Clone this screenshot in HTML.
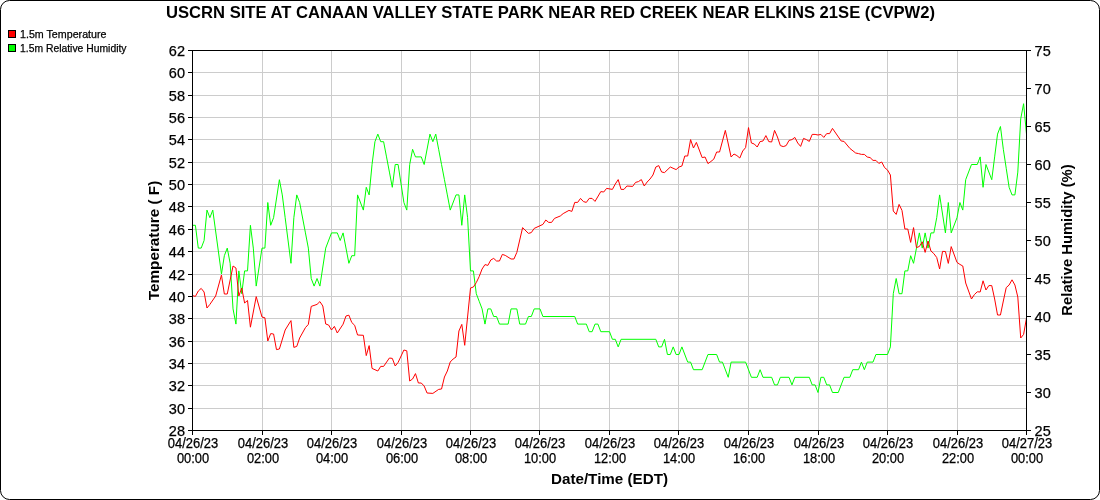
<!DOCTYPE html><html><head><meta charset="utf-8"><style>html,body{margin:0;padding:0;background:#fff;}svg{display:block}text{font-family:"Liberation Sans",Arial,sans-serif;fill:#000;stroke:#000;stroke-width:0.25px}text[font-weight=bold]{stroke:none}</style></head><body>
<svg width="1100" height="500" viewBox="0 0 1100 500">
<rect x="0" y="0" width="1100" height="500" fill="#fff"/>
<rect x="0.5" y="0.5" width="1099" height="499" rx="9" ry="9" fill="#fff" stroke="#000" stroke-width="1"/>
<text x="550.5" y="18" text-anchor="middle" font-weight="bold" font-size="16.5" textLength="769" lengthAdjust="spacingAndGlyphs">USCRN SITE AT CANAAN VALLEY STATE PARK NEAR RED CREEK NEAR ELKINS 21SE (CVPW2)</text>
<rect x="8.5" y="30.5" width="7" height="7" fill="#f00" stroke="#000"/>
<rect x="8.5" y="44.5" width="7" height="7" fill="#0f0" stroke="#000"/>
<text x="20" y="38" font-size="11" textLength="86.5" lengthAdjust="spacingAndGlyphs">1.5m Temperature</text>
<text x="20" y="52" font-size="11" textLength="106.5" lengthAdjust="spacingAndGlyphs">1.5m Relative Humidity</text>
<path d="M262.5 50V430M331.5 50V430M401.5 50V430M470.5 50V430M539.5 50V430M609.5 50V430M678.5 50V430M748.5 50V430M818.5 50V430M887.5 50V430M957.5 50V430M192 72.5H1026M192 95.5H1026M192 117.5H1026M192 139.5H1026M192 162.5H1026M192 184.5H1026M192 206.5H1026M192 229.5H1026M192 251.5H1026M192 274.5H1026M192 296.5H1026M192 318.5H1026M192 341.5H1026M192 363.5H1026M192 385.5H1026M192 408.5H1026" stroke="#cccccc" stroke-width="1" fill="none"/>
<polyline points="192.50,225.30 195.40,225.30 198.29,248.10 201.19,248.10 204.08,240.50 206.98,210.10 209.88,217.70 212.77,210.10 221.46,274.00 224.35,255.70 227.25,248.10 230.15,263.30 233.04,308.90 235.94,324.10 238.83,270.90 241.73,293.70 244.62,270.90 247.52,270.90 250.42,225.30 253.31,248.10 256.21,286.10 262.00,248.10 264.90,248.10 267.79,202.50 270.69,225.30 273.58,217.70 279.38,179.70 282.27,194.90 285.17,217.70 290.96,263.30 293.85,217.70 296.75,194.90 299.65,202.50 305.44,232.90 308.33,248.10 311.23,278.50 314.12,286.10 317.02,278.50 319.92,286.10 325.71,248.10 331.50,232.90 337.29,232.90 340.19,240.50 343.08,232.90 348.88,263.30 351.77,255.70 354.67,255.70 357.56,194.90 363.35,210.10 366.25,187.30 369.15,194.90 372.04,164.50 374.94,141.70 377.83,134.10 380.73,141.70 383.62,141.70 386.52,156.90 389.42,172.10 392.31,187.30 395.21,164.50 398.10,164.50 403.90,202.50 406.79,210.10 409.69,164.50 412.58,149.30 415.48,156.90 421.27,156.90 424.17,164.50 429.96,134.10 432.85,141.70 435.75,134.10 438.65,149.30 441.54,164.50 444.44,179.70 447.33,194.90 450.23,210.10 456.02,194.90 458.92,194.90 461.81,225.30 464.71,194.90 467.60,217.70 470.50,270.90 473.40,270.90 476.29,293.70 479.19,301.30 482.08,308.90 484.98,324.10 487.88,308.90 490.77,308.90 493.67,316.50 496.56,316.50 499.46,324.10 508.15,324.10 511.04,308.90 516.83,308.90 519.73,324.10 525.52,324.10 528.42,316.50 531.31,316.50 534.21,308.90 540.00,308.90 542.90,316.50 574.75,316.50 577.65,324.10 586.33,324.10 589.23,331.70 592.12,331.70 595.02,324.10 597.92,324.10 600.81,331.70 609.50,331.70 612.40,339.30 615.29,339.30 618.19,346.90 621.08,339.30 655.83,339.30 658.73,346.90 661.62,346.90 664.52,339.30 667.42,354.50 670.31,354.50 673.21,346.90 676.10,354.50 679.00,354.50 681.90,346.90 687.69,362.10 690.58,362.10 693.48,369.70 702.17,369.70 707.96,354.50 716.65,354.50 719.54,362.10 722.44,362.10 728.23,377.30 731.12,362.10 745.60,362.10 751.40,377.30 757.19,377.30 760.08,369.70 762.98,377.30 771.67,377.30 774.56,384.90 777.46,384.90 780.35,377.30 789.04,377.30 791.94,384.90 794.83,377.30 809.31,377.30 812.21,384.90 815.10,384.90 818.00,392.50 820.90,377.30 823.79,377.30 826.69,384.90 829.58,384.90 832.48,392.50 838.27,392.50 844.06,377.30 849.85,377.30 852.75,369.70 858.54,369.70 861.44,362.10 864.33,369.70 867.23,362.10 873.02,362.10 875.92,354.50 887.50,354.50 890.40,346.90 893.29,293.70 896.19,278.50 899.08,293.70 901.98,293.70 904.88,270.90 907.77,270.90 910.67,255.70 913.56,263.30 916.46,248.10 919.35,232.90 922.25,248.10 925.15,232.90 928.04,248.10 930.94,232.90 933.83,232.90 936.73,217.70 939.62,194.90 945.42,232.90 948.31,202.50 951.21,232.90 957.00,217.70 959.90,202.50 962.79,210.10 965.69,179.70 971.48,164.50 977.27,164.50 980.17,156.90 983.06,187.30 985.96,164.50 991.75,179.70 994.65,156.90 997.54,134.10 1000.44,126.50 1003.33,149.30 1006.23,168.30 1009.12,187.30 1012.02,194.90 1014.92,194.90 1017.81,172.10 1020.71,118.90 1023.60,103.70 1026.50,134.10" fill="none" stroke="#00ff00" stroke-width="1.0" stroke-linejoin="round"/><polyline points="192.50,295.60 195.40,296.40 198.29,291.00 201.19,288.40 204.08,292.00 206.98,308.00 209.88,304.40 215.67,296.00 221.46,275.00 224.35,294.00 227.25,294.00 233.04,266.00 235.94,268.00 238.83,296.00 241.73,288.00 244.62,303.00 247.52,300.50 250.42,327.20 256.21,296.60 262.00,317.00 264.90,317.80 267.79,341.00 270.69,333.60 273.58,334.00 276.48,349.60 279.38,349.00 285.17,330.00 290.96,320.60 293.85,347.40 296.75,346.40 299.65,338.00 305.44,327.60 308.33,324.40 311.23,306.40 317.02,304.40 319.92,301.60 322.81,306.00 325.71,324.00 328.60,325.00 331.50,330.00 334.40,326.40 337.29,333.00 343.08,324.20 345.98,316.00 348.88,315.20 351.77,322.50 354.67,325.30 357.56,335.00 363.35,335.30 366.25,355.60 369.15,345.60 372.04,368.40 377.83,371.00 380.73,366.40 383.62,366.40 389.42,358.00 392.31,358.40 395.21,366.00 398.10,362.40 403.90,350.00 406.79,350.80 409.69,381.00 412.58,379.00 415.48,373.60 418.38,383.00 421.27,383.00 424.17,386.00 427.06,393.00 432.85,393.40 438.65,389.40 441.54,389.00 444.44,377.00 447.33,371.00 450.23,362.00 453.12,359.00 456.02,357.00 458.92,331.00 461.81,324.40 464.71,345.30 470.50,288.00 473.40,287.00 476.29,282.60 479.19,276.50 482.08,269.00 484.98,264.60 487.88,265.40 490.77,260.00 493.67,258.40 496.56,261.00 499.46,261.00 502.35,254.40 505.25,255.40 511.04,259.00 513.94,259.00 516.83,252.40 522.62,227.60 528.42,233.40 531.31,232.60 534.21,228.40 542.90,224.40 545.79,220.00 548.69,222.40 551.58,222.40 554.48,218.40 560.27,216.00 563.17,213.60 568.96,210.40 571.85,211.40 574.75,202.40 577.65,202.40 580.54,198.40 583.44,201.60 586.33,202.40 589.23,198.40 592.12,198.40 595.02,201.40 600.81,191.60 603.71,192.00 606.60,188.40 612.40,189.40 615.29,184.00 618.19,179.60 621.08,189.40 623.98,189.40 626.88,186.00 632.67,186.40 635.56,182.40 638.46,181.60 641.35,179.60 644.25,186.00 647.15,182.00 650.04,179.00 652.94,175.00 655.83,167.00 658.73,165.60 661.62,172.00 664.52,172.60 670.31,167.00 676.10,169.60 679.00,167.00 681.90,166.00 684.79,156.00 687.69,156.00 690.58,139.60 693.48,148.00 696.38,142.40 702.17,157.60 705.06,157.00 707.96,163.60 710.85,161.50 713.75,159.20 716.65,152.00 719.54,152.00 725.33,130.40 731.12,157.00 734.02,154.00 736.92,155.60 739.81,158.00 742.71,151.00 745.60,147.60 748.50,127.60 751.40,143.00 754.29,144.00 757.19,147.00 760.08,141.60 762.98,141.00 765.88,135.60 768.77,141.60 771.67,142.00 774.56,130.40 777.46,137.00 780.35,145.60 783.25,146.60 786.15,145.60 789.04,140.40 791.94,139.60 794.83,137.40 797.73,143.00 800.62,146.40 803.52,138.40 806.42,139.60 809.31,141.40 812.21,134.40 815.10,134.40 818.00,135.00 820.90,134.40 823.79,137.40 826.69,133.60 829.58,133.60 832.48,128.40 841.17,141.00 844.06,141.40 849.85,148.40 855.65,153.00 858.54,153.60 861.44,154.40 864.33,154.40 867.23,157.00 870.12,157.60 873.02,160.40 875.92,160.40 878.81,163.40 881.71,162.00 884.60,167.60 887.50,170.00 890.40,175.00 893.29,211.00 896.19,214.40 899.08,204.40 901.98,210.40 904.88,229.00 907.77,229.00 910.67,242.40 913.56,227.60 916.46,247.60 919.35,246.50 922.25,241.80 925.15,252.40 928.04,241.00 930.94,251.00 933.83,253.60 936.73,257.50 939.62,269.00 942.52,251.40 945.42,251.50 948.31,263.40 951.21,246.60 957.00,262.40 959.90,264.40 962.79,266.00 965.69,283.00 971.48,299.00 974.38,294.60 977.27,291.80 980.17,292.00 983.06,280.80 985.96,290.00 988.85,285.60 991.75,285.60 994.65,299.00 997.54,315.00 1000.44,315.00 1003.33,301.00 1006.23,287.60 1009.12,285.00 1012.02,279.80 1014.92,285.00 1017.81,297.00 1020.71,338.00 1023.60,334.40 1026.50,318.00" fill="none" stroke="#ff0000" stroke-width="1.0" stroke-linejoin="round"/>
<path d="M192.5 50V430.5M1026.5 50V430.5M188 50.5H1031M188 430.5H1026.5M188 50.5H192M188 72.5H192M188 95.5H192M188 117.5H192M188 139.5H192M188 162.5H192M188 184.5H192M188 206.5H192M188 229.5H192M188 251.5H192M188 274.5H192M188 296.5H192M188 318.5H192M188 341.5H192M188 363.5H192M188 385.5H192M188 408.5H192M188 430.5H192M1027 50.5H1031M1027 88.5H1031M1027 126.5H1031M1027 164.5H1031M1027 202.5H1031M1027 240.5H1031M1027 278.5H1031M1027 316.5H1031M1027 354.5H1031M1027 392.5H1031M1027 430.5H1031M192.5 431V435M262.5 431V435M331.5 431V435M401.5 431V435M470.5 431V435M539.5 431V435M609.5 431V435M678.5 431V435M748.5 431V435M818.5 431V435M887.5 431V435M957.5 431V435M1026.5 431V435" stroke="#000" stroke-width="1" fill="none" shape-rendering="crispEdges"/>
<text x="185" y="55.7" text-anchor="end" font-size="14.5">62</text>
<text x="185" y="77.7" text-anchor="end" font-size="14.5">60</text>
<text x="185" y="100.7" text-anchor="end" font-size="14.5">58</text>
<text x="185" y="122.7" text-anchor="end" font-size="14.5">56</text>
<text x="185" y="144.7" text-anchor="end" font-size="14.5">54</text>
<text x="185" y="167.7" text-anchor="end" font-size="14.5">52</text>
<text x="185" y="189.7" text-anchor="end" font-size="14.5">50</text>
<text x="185" y="211.7" text-anchor="end" font-size="14.5">48</text>
<text x="185" y="234.7" text-anchor="end" font-size="14.5">46</text>
<text x="185" y="256.7" text-anchor="end" font-size="14.5">44</text>
<text x="185" y="279.7" text-anchor="end" font-size="14.5">42</text>
<text x="185" y="301.7" text-anchor="end" font-size="14.5">40</text>
<text x="185" y="323.7" text-anchor="end" font-size="14.5">38</text>
<text x="185" y="346.7" text-anchor="end" font-size="14.5">36</text>
<text x="185" y="368.7" text-anchor="end" font-size="14.5">34</text>
<text x="185" y="390.7" text-anchor="end" font-size="14.5">32</text>
<text x="185" y="413.7" text-anchor="end" font-size="14.5">30</text>
<text x="185" y="435.7" text-anchor="end" font-size="14.5">28</text>
<text x="1034.6" y="55.7" font-size="14.5">75</text>
<text x="1034.6" y="93.7" font-size="14.5">70</text>
<text x="1034.6" y="131.7" font-size="14.5">65</text>
<text x="1034.6" y="169.7" font-size="14.5">60</text>
<text x="1034.6" y="207.7" font-size="14.5">55</text>
<text x="1034.6" y="245.7" font-size="14.5">50</text>
<text x="1034.6" y="283.7" font-size="14.5">45</text>
<text x="1034.6" y="321.7" font-size="14.5">40</text>
<text x="1034.6" y="359.7" font-size="14.5">35</text>
<text x="1034.6" y="397.7" font-size="14.5">30</text>
<text x="1034.6" y="435.7" font-size="14.5">25</text>
<text x="193.0" y="448" text-anchor="middle" font-size="13.8" textLength="50.4" lengthAdjust="spacingAndGlyphs">04/26/23</text>
<text x="193.0" y="463" text-anchor="middle" font-size="13.8" textLength="32.2" lengthAdjust="spacingAndGlyphs">00:00</text>
<text x="263.0" y="448" text-anchor="middle" font-size="13.8" textLength="50.4" lengthAdjust="spacingAndGlyphs">04/26/23</text>
<text x="263.0" y="463" text-anchor="middle" font-size="13.8" textLength="32.2" lengthAdjust="spacingAndGlyphs">02:00</text>
<text x="332.0" y="448" text-anchor="middle" font-size="13.8" textLength="50.4" lengthAdjust="spacingAndGlyphs">04/26/23</text>
<text x="332.0" y="463" text-anchor="middle" font-size="13.8" textLength="32.2" lengthAdjust="spacingAndGlyphs">04:00</text>
<text x="402.0" y="448" text-anchor="middle" font-size="13.8" textLength="50.4" lengthAdjust="spacingAndGlyphs">04/26/23</text>
<text x="402.0" y="463" text-anchor="middle" font-size="13.8" textLength="32.2" lengthAdjust="spacingAndGlyphs">06:00</text>
<text x="471.0" y="448" text-anchor="middle" font-size="13.8" textLength="50.4" lengthAdjust="spacingAndGlyphs">04/26/23</text>
<text x="471.0" y="463" text-anchor="middle" font-size="13.8" textLength="32.2" lengthAdjust="spacingAndGlyphs">08:00</text>
<text x="540.0" y="448" text-anchor="middle" font-size="13.8" textLength="50.4" lengthAdjust="spacingAndGlyphs">04/26/23</text>
<text x="540.0" y="463" text-anchor="middle" font-size="13.8" textLength="32.2" lengthAdjust="spacingAndGlyphs">10:00</text>
<text x="610.0" y="448" text-anchor="middle" font-size="13.8" textLength="50.4" lengthAdjust="spacingAndGlyphs">04/26/23</text>
<text x="610.0" y="463" text-anchor="middle" font-size="13.8" textLength="32.2" lengthAdjust="spacingAndGlyphs">12:00</text>
<text x="679.0" y="448" text-anchor="middle" font-size="13.8" textLength="50.4" lengthAdjust="spacingAndGlyphs">04/26/23</text>
<text x="679.0" y="463" text-anchor="middle" font-size="13.8" textLength="32.2" lengthAdjust="spacingAndGlyphs">14:00</text>
<text x="749.0" y="448" text-anchor="middle" font-size="13.8" textLength="50.4" lengthAdjust="spacingAndGlyphs">04/26/23</text>
<text x="749.0" y="463" text-anchor="middle" font-size="13.8" textLength="32.2" lengthAdjust="spacingAndGlyphs">16:00</text>
<text x="819.0" y="448" text-anchor="middle" font-size="13.8" textLength="50.4" lengthAdjust="spacingAndGlyphs">04/26/23</text>
<text x="819.0" y="463" text-anchor="middle" font-size="13.8" textLength="32.2" lengthAdjust="spacingAndGlyphs">18:00</text>
<text x="888.0" y="448" text-anchor="middle" font-size="13.8" textLength="50.4" lengthAdjust="spacingAndGlyphs">04/26/23</text>
<text x="888.0" y="463" text-anchor="middle" font-size="13.8" textLength="32.2" lengthAdjust="spacingAndGlyphs">20:00</text>
<text x="958.0" y="448" text-anchor="middle" font-size="13.8" textLength="50.4" lengthAdjust="spacingAndGlyphs">04/26/23</text>
<text x="958.0" y="463" text-anchor="middle" font-size="13.8" textLength="32.2" lengthAdjust="spacingAndGlyphs">22:00</text>
<text x="1027.0" y="448" text-anchor="middle" font-size="13.8" textLength="50.4" lengthAdjust="spacingAndGlyphs">04/27/23</text>
<text x="1027.0" y="463" text-anchor="middle" font-size="13.8" textLength="32.2" lengthAdjust="spacingAndGlyphs">00:00</text>
<text x="609.5" y="483.5" text-anchor="middle" font-weight="bold" font-size="15.2">Date/Time (EDT)</text>
<text transform="translate(158.6,240.5) rotate(-90)" text-anchor="middle" font-weight="bold" font-size="15.3">Temperature ( F)</text>
<text transform="translate(1072.4,240) rotate(-90)" text-anchor="middle" font-weight="bold" font-size="14.8">Relative Humidity (%)</text>
</svg></body></html>
